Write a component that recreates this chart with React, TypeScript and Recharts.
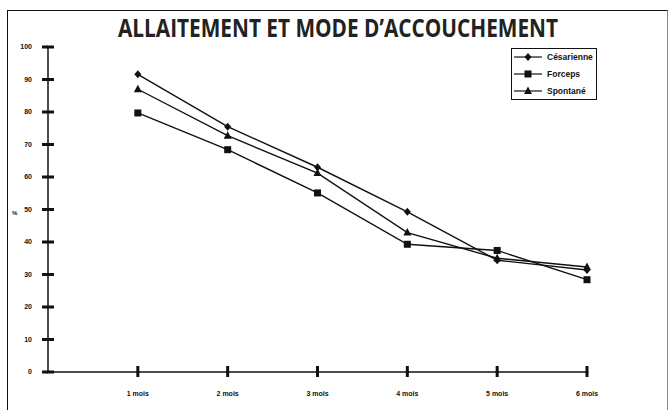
import { Line, LineChart, ReferenceDot, XAxis, YAxis } from "recharts"

const MONTHS = [1, 2, 3, 4, 5, 6]
const CESARIENNE = [91.6, 75.5, 63, 49.3, 34.4, 31.4]
const FORCEPS = [79.7, 68.4, 55.1, 39.3, 37.4, 28.4]
const SPONTANE = [87, 72.7, 61.2, 42.9, 35, 32.3]
const Y_TICKS = [0, 10, 20, 30, 40, 50, 60, 70, 80, 90, 100]

const TITLE = "ALLAITEMENT ET MODE D\u2019ACCOUCHEMENT"

const data = MONTHS.map((m, i) => ({
  m,
  cesarienne: CESARIENNE[i],
  forceps: FORCEPS[i],
  spontane: SPONTANE[i],
}))

const SERIES = [
  { key: "cesarienne", name: "Césarienne", shape: "diamond" },
  { key: "forceps", name: "Forceps", shape: "square" },
  { key: "spontane", name: "Spontané", shape: "triangle" },
] as const

type Shape = "diamond" | "square" | "triangle"

const INK = "#111"
const AXIS_FONT = "'Liberation Sans', Arial, sans-serif"

function Marker({ shape, cx, cy }: { shape: Shape; cx: number; cy: number }) {
  if (shape === "diamond")
    return <polygon points={`${cx},${cy - 4} ${cx + 3.5},${cy} ${cx},${cy + 4} ${cx - 3.5},${cy}`} fill={INK} />
  if (shape === "square") return <rect x={cx - 3.5} y={cy - 3.5} width={7} height={7} fill={INK} />
  return <polygon points={`${cx},${cy - 4.5} ${cx + 4},${cy + 3} ${cx - 4},${cy + 3}`} fill={INK} />
}

function dotFor(shape: Shape) {
  return (p: any) => <Marker key={`${shape}-${p.index}`} shape={shape} cx={p.cx} cy={p.cy} />
}

// inward half of each tick mark; the outward half is the axis' own tickLine
const yTickMark = (p: any) => <rect x={p.cx - 1} y={p.cy - 1.5} width={7} height={3} fill={INK} />
const xTickMark = (p: any) => <rect x={p.cx - 1.5} y={p.cy - 6} width={3} height={7} fill={INK} />

function LegendBox() {
  return (
    <div
      style={{
        position: "absolute",
        left: 511,
        top: 48,
        border: `1.5px solid ${INK}`,
        width: 86,
        height: 52,
        boxSizing: "border-box",
        background: "#fff",
      }}
    >
      <svg width={84} height={50} style={{ display: "block" }}>
        {SERIES.map((s, i) => {
          const y = 8 + i * 17
          return (
            <g key={s.key}>
              <line x1={2} x2={30} y1={y} y2={y} stroke={INK} strokeWidth={1.2} />
              <Marker shape={s.shape} cx={16} cy={y} />
              <text x={35} y={y + 3} fontSize={8.5} fontWeight="bold" fill={INK} fontFamily={AXIS_FONT}>
                {s.name}
              </text>
            </g>
          )
        })}
      </svg>
    </div>
  )
}

export default function App() {
  return (
    <div style={{ position: "absolute", left: 0, top: 0, width: 668, height: 410, background: "#fff" }}>
      <LineChart width={668} height={410} data={data} margin={{ top: 47, right: 81, bottom: 0, left: 0 }}>
        <XAxis
          dataKey="m"
          type="number"
          domain={[0, 6]}
          ticks={MONTHS}
          height={38}
          tickSize={5}
          tickMargin={14}
          tickLine={{ stroke: INK, strokeWidth: 3 }}
          tick={{ fontSize: 7, fontWeight: "bold", fill: INK, fontFamily: AXIS_FONT }}
          tickFormatter={(v) => `${v} mois`}
          axisLine={{ stroke: INK, strokeWidth: 1.5 }}
        />
        <YAxis
          type="number"
          domain={[0, 100]}
          ticks={Y_TICKS}
          width={48}
          tickSize={6}
          tickMargin={10}
          tickLine={{ stroke: INK, strokeWidth: 3 }}
          tick={{ fontSize: 7, fontWeight: "bold", fill: INK, fontFamily: AXIS_FONT }}
          axisLine={{ stroke: INK, strokeWidth: 1.5 }}
        />
        {Y_TICKS.map((v) => (
          <ReferenceDot key={`yt-${v}`} x={0} y={v} ifOverflow="visible" shape={yTickMark} />
        ))}
        {MONTHS.map((m) => (
          <ReferenceDot key={`xt-${m}`} x={m} y={0} ifOverflow="visible" shape={xTickMark} />
        ))}
        {SERIES.map((s) => (
          <Line
            key={s.key}
            dataKey={s.key}
            name={s.name}
            type="linear"
            stroke={INK}
            strokeWidth={1.4}
            dot={dotFor(s.shape)}
            activeDot={false}
            isAnimationActive={false}
          />
        ))}
      </LineChart>
      <div
        style={{
          position: "absolute",
          left: 7,
          top: 10,
          width: 661,
          height: 400,
          borderLeft: `1.5px solid ${INK}`,
          borderTop: `1.5px solid ${INK}`,
          borderRight: "1px solid #888",
          boxSizing: "border-box",
          pointerEvents: "none",
        }}
      />
      <svg style={{ position: "absolute", left: 100, top: 12 }} width={480} height={32}>
        <text
          x={18}
          y={25}
          textLength={440}
          lengthAdjust="spacingAndGlyphs"
          fontSize={25}
          fontWeight="bold"
          fill="#222"
          fontFamily="'Open Sans', 'Noto Sans', sans-serif"
        >
          {TITLE}
        </text>
      </svg>
      <svg style={{ position: "absolute", left: 8, top: 205 }} width={14} height={14}>
        <text x={4} y={10} fontSize={6} fontWeight="bold" fill={INK} fontFamily={AXIS_FONT}>
          %
        </text>
      </svg>
      <LegendBox />
    </div>
  )
}
